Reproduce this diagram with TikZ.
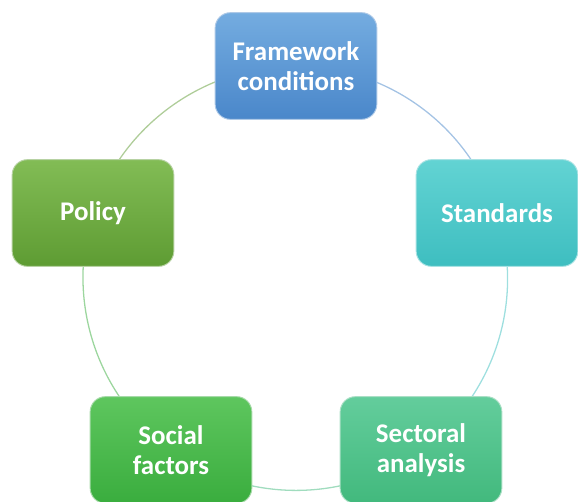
\documentclass[tikz,border=0pt]{standalone}
\usepackage{fontspec}
\setmainfont{Carlito}
\usetikzlibrary{backgrounds}

\definecolor{fwtop}{HTML}{74ACE0}
\definecolor{fwbot}{HTML}{4A87CA}
\definecolor{sttop}{HTML}{62D3D3}
\definecolor{stbot}{HTML}{3EBEC0}
\definecolor{satop}{HTML}{63CD9C}
\definecolor{sabot}{HTML}{42B97D}
\definecolor{sftop}{HTML}{5EC65E}
\definecolor{sfbot}{HTML}{3AAD3E}
\definecolor{potop}{HTML}{82BC55}
\definecolor{pobot}{HTML}{5E9C33}

\begin{document}
\begin{tikzpicture}[x=0.3mm, y=-0.3mm,
	topic/.style={rounded corners=13pt, minimum width=4.85cm, minimum height=3.2cm,
		text width=4.5cm, align=center, text=white, font=\fontsize{23}{26}\selectfont\bfseries,
		draw=white!55!#1, line width=0.8pt},
	ring/.style={line width=1.1pt, bend left=36, looseness=0.94}]
	\useasboundingbox (0,0) rectangle (578,502);
	\node[topic=fwbot, top color=fwtop, bottom color=fwbot] (fw) at (296,66) {Framework\\conditions};
	\node[topic=stbot, top color=sttop, bottom color=stbot] (st) at (497,213) {Standards};
	\node[topic=sabot, top color=satop, bottom color=sabot] (sa) at (421,450) {Sectoral\\analysis};
	\node[topic=sfbot, top color=sftop, bottom color=sfbot] (sf) at (171,450) {Social\\factors};
	\node[topic=pobot, top color=potop, bottom color=pobot] (po) at (93,213) {Policy};
	\begin{scope}[on background layer]
	\draw[ring, color=fwbot!50] (fw.center) to (st.center);
	\draw[ring, color=stbot!50] (st.center) to (sa.center);
	\draw[ring, color=sabot!50] (sa.center) to (sf.center);
	\draw[ring, color=sfbot!50] (sf.center) to (po.center);
	\draw[ring, color=pobot!50] (po.center) to (fw.center);
	\end{scope}
\end{tikzpicture}
\end{document}
